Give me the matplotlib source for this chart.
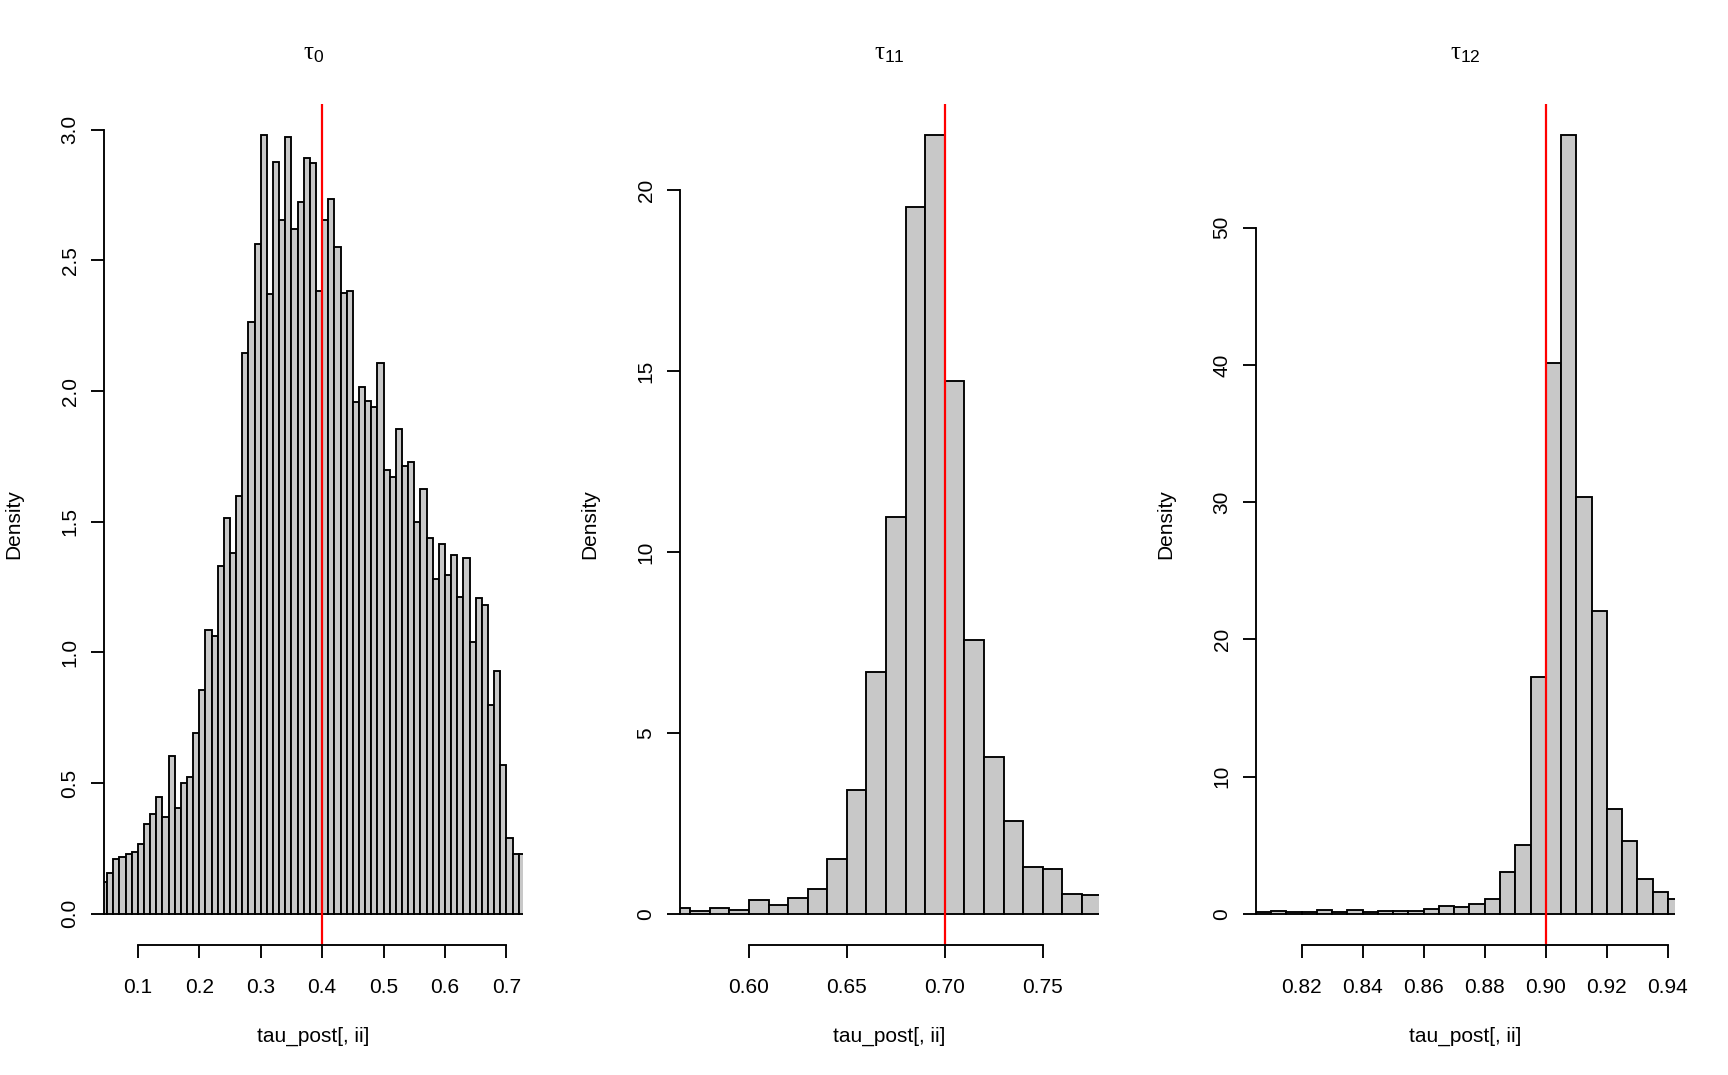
import numpy as np
import matplotlib
matplotlib.use("Agg")
import matplotlib.pyplot as plt

plt.rcParams['font.family'] = ['Liberation Sans', 'DejaVu Sans']
plt.rcParams['mathtext.fontset'] = 'custom'
plt.rcParams['mathtext.rm'] = 'Liberation Sans'
plt.rcParams['mathtext.it'] = 'Liberation Serif'
plt.rcParams['mathtext.bf'] = 'Liberation Sans:bold'

# ---------------- data ----------------
titles = [r'$\tau_{0}$', r'$\tau_{11}$', r'$\tau_{12}$']
true_values = [0.40, 0.70, 0.90]
xlabel = "tau_post[, ii]"
ylabel = "Density"

# panel 1 (tau_0): bins of width 0.01 starting at 0.04
start0, width0 = 0.04, 0.01
dens0 = [0.122, 0.155, 0.209, 0.219, 0.230, 0.238, 0.269, 0.342, 0.383, 0.447,
         0.369, 0.602, 0.404, 0.499, 0.522, 0.692, 0.855, 1.087, 1.062, 1.331,
         1.513, 1.379, 1.598, 2.147, 2.265, 2.563, 2.979, 2.373, 2.878, 2.656,
         2.971, 2.621, 2.725, 2.890, 2.874, 2.381, 2.656, 2.733, 2.551, 2.375,
         2.381, 1.957, 2.017, 1.961, 1.940, 2.106, 1.698, 1.673, 1.853, 1.714,
         1.729, 1.499, 1.625, 1.439, 1.282, 1.414, 1.296, 1.371, 1.213, 1.360,
         1.041, 1.209, 1.180, 0.799, 0.928, 0.571, 0.292, 0.230, 0.228]

# panel 2 (tau_11): bins of width 0.01 starting at 0.56
start1, width1 = 0.56, 0.01
dens1 = [0.15, 0.075, 0.165, 0.105, 0.374, 0.24, 0.434, 0.674, 1.527, 3.413,
         6.677, 10.97, 19.54, 21.53, 14.73, 7.575, 4.34, 2.575, 1.30, 1.228,
         0.554, 0.509]

# panel 3 (tau_12): bins of width 0.005 starting at 0.805
start2, width2 = 0.805, 0.005
dens2 = [0.12, 0.24, 0.16, 0.12, 0.28, 0.16, 0.28, 0.12, 0.20, 0.24,
         0.24, 0.36, 0.55, 0.47, 0.71, 1.07, 3.08, 5.01, 17.25, 40.17,
         56.75, 30.35, 22.06, 7.66, 5.33, 2.57, 1.58, 1.07]

# axis limits / ticks
xlims = [(0.045, 0.727), (0.5648, 0.7787), (0.8051, 0.9423)]
xticks = [[0.1, 0.2, 0.3, 0.4, 0.5, 0.6, 0.7],
          [0.60, 0.65, 0.70, 0.75],
          [0.82, 0.84, 0.86, 0.88, 0.90, 0.92, 0.94]]
xticklabels = [["0.1", "0.2", "0.3", "0.4", "0.5", "0.6", "0.7"],
               ["0.60", "0.65", "0.70", "0.75"],
               ["0.82", "0.84", "0.86", "0.88", "0.90", "0.92", "0.94"]]
yticks = [[0.0, 0.5, 1.0, 1.5, 2.0, 2.5, 3.0],
          [0, 5, 10, 15, 20],
          [0, 10, 20, 30, 40, 50]]
yticklabels = [["0.0", "0.5", "1.0", "1.5", "2.0", "2.5", "3.0"],
               ["0", "5", "10", "15", "20"],
               ["0", "10", "20", "30", "40", "50"]]

panels = [(start0, width0, dens0), (start1, width1, dens1), (start2, width2, dens2)]

# ---------------- figure ----------------
W, H = 1728, 1075
fig = plt.figure(figsize=(W / 100, H / 100), dpi=100)

LW = 1.35
FS = 15
for i, (start, bw, dens) in enumerate(panels):
    left_px = 104 + 576 * i
    right_px = left_px + 419
    top_px, bot_px = 104, 945
    ax = fig.add_axes([left_px / W, 1 - bot_px / H, (right_px - left_px) / W, (bot_px - top_px) / H])
    dens = np.asarray(dens)
    edges = start + bw * np.arange(len(dens) + 1)
    ax.bar(edges[:-1], dens, width=bw, align='edge', color='#C8C8C8',
           edgecolor='black', linewidth=LW)
    ax.axvline(true_values[i], color='#FF0000', linewidth=1.6)
    ymax = dens.max()
    ax.set_ylim(-0.04 * ymax, 1.04 * ymax)
    ax.set_xlim(*xlims[i])

    for s in ['top', 'right']:
        ax.spines[s].set_visible(False)
    ax.spines['left'].set_bounds(yticks[i][0], yticks[i][-1])
    ax.spines['bottom'].set_bounds(xticks[i][0], xticks[i][-1])
    ax.spines['left'].set_linewidth(LW)
    ax.spines['bottom'].set_linewidth(LW)

    ax.set_xticks(xticks[i])
    ax.set_xticklabels(xticklabels[i], fontsize=FS)
    ax.set_yticks(yticks[i])
    ax.set_yticklabels(yticklabels[i], fontsize=FS, rotation=90, va='center')
    ax.tick_params(axis='x', direction='out', length=9.1, width=LW, pad=14.5)
    ax.tick_params(axis='y', direction='out', length=9.1, width=LW, pad=8.5)

    cx = (left_px + right_px) / 2
    fig.text(cx / W, 1 - 53 / H, titles[i], ha='center', va='center', fontsize=18)
    fig.text(cx / W, 1 - 1036 / H, xlabel, ha='center', va='center', fontsize=FS)
    fig.text((left_px - 90) / W, 1 - ((top_px + bot_px) / 2) / H, ylabel,
             ha='center', va='center', rotation=90, fontsize=FS)

fig.savefig("out.png", dpi=100)
